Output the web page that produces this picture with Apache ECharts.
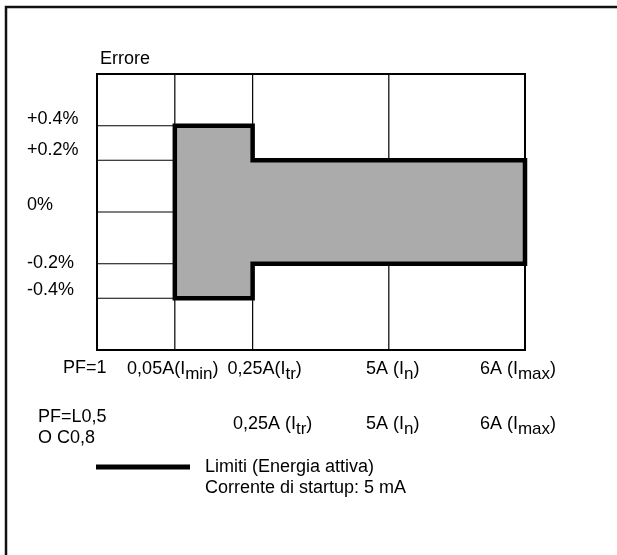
<!DOCTYPE html>
<html><head><meta charset="utf-8">
<script src="https://cdn.jsdelivr.net/npm/echarts@6/dist/echarts.min.js"></script>
<style>html,body{margin:0;padding:0;background:#fff}#c{width:617px;height:555px}</style>
</head><body><div id="c"></div>
<script>
// ---------------- data ----------------
const ERROR_LEVELS = [0.4, 0.2, 0, -0.2, -0.4];
const ERROR_LABELS = ['+0.4%', '+0.2%', '0%', '-0.2%', '-0.4%'];
const CURRENT_NAMES = ['origin', 'Imin', 'Itr', 'In', 'Imax'];
const TICKS_PF1 = ['', '0,05A(I_min)', '0,25A(I_tr)', '5A (I_n)', '6A (I_max)'];
const TICKS_PF05 = ['', '', '0,25A (I_tr)', '5A (I_n)', '6A (I_max)'];
// allowed +/- error (%) between consecutive currents: origin-Imin, Imin-Itr, Itr-In, In-Imax
const LIMIT_ERROR = [null, 0.4, 0.2, 0.2];
const ROW_PF1 = 'PF=1';
const ROW_PF05 = ['PF=L0,5', 'O C0,8'];
const LEGEND_NAME = 'Limiti (Energia attiva)';
const LEGEND_NOTE = 'Corrente di startup: 5 mA';
const Y_TITLE = 'Errore';

// ---------------- layout (schematic, non-proportional axes) ----------------
const FONT = '"Liberation Sans", Arial, sans-serif';
const FS = 18;
const X_SLOT = [0, 2, 4, 7.5, 11];
const X_MAX = 11, Y_MIN = -8, Y_MAX = 8;
function ySlot(e) { const a = Math.abs(e); const s = a <= 0.2 ? a * 15 : 3 + (a - 0.2) * 10; return Math.sign(e) * s; }
const SHIFT = [[0, -2, 12, 4, -7], [0, 0, 20, 4, -7]];
const Y_LIFT = [7, 10, 7, 1, 8];

// limit polygon
const upper = [], lower = [];
LIMIT_ERROR.forEach((e, i) => {
  if (e == null) return;
  upper.push([X_SLOT[i], ySlot(e)], [X_SLOT[i + 1], ySlot(e)]);
  lower.push([X_SLOT[i], ySlot(-e)], [X_SLOT[i + 1], ySlot(-e)]);
});
const polygon = upper.concat(lower.reverse());

// grid lines: verticals at interior currents, horizontals at error levels in first column
const gridSegs = [];
for (let i = 1; i < X_SLOT.length - 1; i++) gridSegs.push([X_SLOT[i], Y_MIN, X_SLOT[i], Y_MAX]);
ERROR_LEVELS.forEach(e => gridSegs.push([X_SLOT[0], ySlot(e), X_SLOT[1], ySlot(e)]));

const rich = {
  s: { fontSize: 17, fontFamily: FONT, color: '#000', padding: [11, 0, 0, 0] }
};
SHIFT.forEach((row, r) => row.forEach((sh, i) => {
  rich['a' + r + i] = { fontSize: FS, fontFamily: FONT, color: '#000', padding: [0, 0, 0, Math.max(0, 2 * sh)] };
  rich['z' + r + i] = { fontSize: FS, fontFamily: FONT, color: '#000', padding: [0, Math.max(0, -2 * sh), 0, 0] };
}));
function tickFormatter(ticks, r) {
  return function (v) {
    const i = X_SLOT.findIndex(x => Math.abs(x - v) < 1e-6);
    if (i < 0 || !ticks[i]) return '';
    const m = ticks[i].match(/^(.*)_(\w+)(\))$/);
    return '{a' + r + i + '|' + m[1] + '}{s|' + m[2] + '}{z' + r + i + '|' + m[3] + '}';
  };
}
const yRich = {};
Y_LIFT.forEach((l, i) => { yRich['y' + i] = { fontSize: FS, fontFamily: FONT, color: '#000', padding: [0, 0, 2 * l, 0] }; });

function xAxisCfg(ticks, r, offset) {
  return {
    type: 'value', min: 0, max: X_MAX, interval: 0.5, position: 'bottom', offset: offset,
    axisLine: { show: false }, axisTick: { show: false }, splitLine: { show: false },
    axisLabel: { margin: 5, formatter: tickFormatter(ticks, r), rich: rich, showMinLabel: true, showMaxLabel: true }
  };
}

const chart = echarts.init(document.getElementById('c'), null, { renderer: 'canvas' });
chart.setOption({
  animation: false,
  backgroundColor: '#fff',
  grid: { left: 97, top: 74, width: 428, height: 276, show: true, borderColor: '#000', borderWidth: 2, containLabel: false, outerBoundsMode: 'none' },
  xAxis: [xAxisCfg(TICKS_PF1, 0, 0), xAxisCfg(TICKS_PF05, 1, 55)],
  yAxis: {
    type: 'value', min: Y_MIN, max: Y_MAX, interval: 1,
    name: Y_TITLE, nameLocation: 'end', nameGap: 6,
    nameTextStyle: { align: 'left', fontSize: FS, fontFamily: FONT, color: '#000', padding: [0, 0, 0, 3] },
    axisLine: { show: false }, axisTick: { show: false }, splitLine: { show: false },
    axisLabel: {
      align: 'left', margin: 70, rich: yRich,
      formatter: function (v) {
        const i = ERROR_LEVELS.findIndex(e => Math.abs(ySlot(e) - v) < 1e-6);
        return i < 0 ? '' : '{y' + i + '|' + ERROR_LABELS[i] + '}';
      }
    }
  },
  legend: {
    data: [LEGEND_NAME], left: 91, top: 453, icon: 'rect', itemWidth: 94, itemHeight: 5,
    selectedMode: false, formatter: '{t|{name}}',
    textStyle: { rich: { t: { fontSize: FS, fontFamily: FONT, color: '#000', padding: [0, 0, 0, 10] } } }
  },
  graphic: [
    { type: 'polyline', shape: { points: [[6, 555], [6, 7], [617, 7]] }, style: { stroke: '#111', lineWidth: 2.5, fill: null } },
    { type: 'text', x: 63, y: 368, style: { text: ROW_PF1, font: FS + 'px ' + FONT, fill: '#000', align: 'left', verticalAlign: 'middle' } },
    { type: 'text', x: 38, y: 427.5, style: { text: ROW_PF05.join('\n'), font: FS + 'px ' + FONT, lineHeight: 21, fill: '#000', align: 'left', verticalAlign: 'middle' } },
    { type: 'text', x: 205, y: 488, style: { text: LEGEND_NOTE, font: FS + 'px ' + FONT, fill: '#000', align: 'left', verticalAlign: 'middle' } }
  ],
  series: [
    {
      type: 'custom', name: 'grid', z: 1, silent: true,
      encode: { x: [0, 2], y: [1, 3] },
      data: gridSegs,
      renderItem: function (params, api) {
        const p1 = api.coord([api.value(0), api.value(1)]);
        const p2 = api.coord([api.value(2), api.value(3)]);
        return { type: 'line', shape: { x1: p1[0], y1: p1[1], x2: p2[0], y2: p2[1] }, style: { stroke: '#000', lineWidth: 1.2 } };
      }
    },
    {
      type: 'custom', name: LEGEND_NAME, z: 3, silent: true,
      itemStyle: { color: '#000' },
      encode: { x: 0, y: 1 },
      data: polygon,
      renderItem: function (params, api) {
        if (params.dataIndex !== 0) return null;
        const pts = polygon.map(p => api.coord(p));
        return { type: 'polygon', shape: { points: pts }, style: { fill: '#ababab', stroke: '#000', lineWidth: 4.5, lineJoin: 'miter' } };
      }
    }
  ]
});
</script></body></html>
